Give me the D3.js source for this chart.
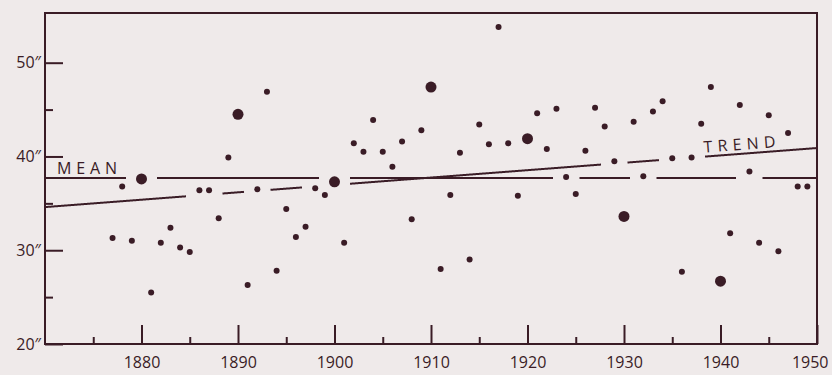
<!DOCTYPE html>
<html>
<head>
<meta charset="utf-8">
<script src="https://cdn.jsdelivr.net/npm/d3@7"></script>
<style>
    html, body { margin: 0; padding: 0; background: #efeaea; }
    svg { display: block; }
    text { font-family: "Open Sans", sans-serif; fill: #3a1c26; }
</style>
</head>
<body>
<svg id="chart" width="832" height="375"></svg>
<script>
// annual rainfall (inches)
const years = [
    1877, 1878, 1879, 1880, 1881, 1882, 1883, 1884, 1885, 1886, 1887, 1888, 1889,
    1890, 1891, 1892, 1893, 1894, 1895, 1896, 1897, 1898, 1899,
    1900, 1901, 1902, 1903, 1904, 1905, 1906, 1907, 1908, 1909,
    1910, 1911, 1912, 1913, 1914, 1915, 1916, 1917, 1918, 1919,
    1920, 1921, 1922, 1923, 1924, 1925, 1926, 1927, 1928, 1929,
    1930, 1931, 1932, 1933, 1934, 1935, 1936, 1937, 1938, 1939,
    1940, 1941, 1942, 1943, 1944, 1945, 1946, 1947, 1948, 1949
];
const rainfall = [
    31.3, 36.8, 31.0, 37.6, 25.5, 30.8, 32.4, 30.3, 29.8, 36.4, 36.4, 33.4, 39.9,
    44.5, 26.3, 36.5, 46.9, 27.8, 34.4, 31.4, 32.5, 36.6, 35.9,
    37.3, 30.8, 41.4, 40.5, 43.9, 40.5, 38.9, 41.6, 33.3, 42.8,
    47.4, 28.0, 35.9, 40.4, 29.0, 43.4, 41.3, 53.8, 41.4, 35.8,
    41.9, 44.6, 40.8, 45.1, 37.8, 36.0, 40.6, 45.2, 43.2, 39.5,
    33.6, 43.7, 37.9, 44.8, 45.9, 39.8, 27.7, 39.9, 43.5, 47.4,
    26.7, 31.8, 45.5, 38.4, 30.8, 44.4, 29.9, 42.5, 36.8, 36.8
];
const meanRain   = 37.7;
const trendYears = [1870, 1950];
const trendRain  = [34.6, 40.9];

const yMajorTicks = [20, 30, 40, 50];
const yMinorTicks = [25, 35, 45];
const xMajorTicks = [1880, 1890, 1900, 1910, 1920, 1930, 1940, 1950];
const xMinorTicks = [1875, 1885, 1895, 1905, 1915, 1925, 1935, 1945];

const ink = '#3a1c26';
const plotLeft = 45, plotRight = 817, plotTop = 13, plotBottom = 344;

const x = d3.scaleLinear().domain([1870, 1950]).range([plotLeft, plotRight]);
const y = d3.scaleLinear().domain([20, 55.3]).range([plotBottom, plotTop]);
const trend = d3.scaleLinear().domain(trendYears).range(trendRain);

const svg = d3.select('#chart');

// frame
svg.append('rect')
    .attr('x', plotLeft).attr('y', plotTop)
    .attr('width', plotRight - plotLeft).attr('height', plotBottom - plotTop)
    .attr('fill', 'none').attr('stroke', ink).attr('stroke-width', 2);

function styleAxis(g) {
    g.select('.domain').remove();
    g.selectAll('.tick line').attr('stroke', ink).attr('stroke-width', 2);
    g.selectAll('.tick text').attr('fill', ink).style('font-size', '16px');
}

svg.append('g').attr('transform', `translate(${plotLeft},0)`)
    .call(d3.axisLeft(y).tickValues(yMajorTicks).tickSizeInner(-18).tickSizeOuter(0)
        .tickPadding(4).tickFormat(d => d + '″'))
    .call(styleAxis);
svg.append('g').attr('transform', `translate(${plotLeft},0)`)
    .call(d3.axisLeft(y).tickValues(yMinorTicks).tickSizeInner(-8).tickSizeOuter(0).tickFormat(''))
    .call(styleAxis);

const xAxis = svg.append('g').attr('transform', `translate(0,${plotBottom})`)
    .call(d3.axisBottom(x).tickValues(xMajorTicks).tickSizeInner(-19).tickSizeOuter(0)
        .tickPadding(13).tickFormat(d3.format('d')))
    .call(styleAxis);
// last year label tucked in against the right edge
xAxis.selectAll('.tick text').filter(d => d === 1950)
    .attr('text-anchor', 'end').attr('dx', 11);

svg.append('g').attr('transform', `translate(0,${plotBottom})`)
    .call(d3.axisBottom(x).tickValues(xMinorTicks).tickSizeInner(-7).tickSizeOuter(0).tickFormat(''))
    .call(styleAxis);

// dots, decade years drawn bigger
const dots = years.map((yr, i) => ({
    cx: x(yr), cy: y(rainfall[i]), r: yr % 10 === 0 ? 5.5 : 3
}));

// break a line wherever it would run into a dot
function segments(lineY) {
    const out = [];
    let cur = null;
    for (let px = plotLeft; px <= plotRight; px += 0.5) {
        const py = lineY(px);
        const hit = dots.some(d => Math.abs(px - d.cx) < d.r + 10 && Math.abs(py - d.cy) < d.r + 5.2);
        if (!hit) {
            if (!cur) { cur = []; out.push(cur); }
            cur.push([px, py]);
        } else {
            cur = null;
        }
    }
    return out.filter(s => s.length > 2);
}

const line = d3.line();
const meanY  = px => y(meanRain);
const trendY = px => y(trend(x.invert(px)));

svg.append('g').selectAll('path')
    .data(segments(meanY).concat(segments(trendY)))
    .enter().append('path')
    .attr('d', line)
    .attr('fill', 'none').attr('stroke', ink).attr('stroke-width', 2);

svg.append('g').selectAll('circle')
    .data(dots)
    .enter().append('circle')
    .attr('cx', d => d.cx).attr('cy', d => d.cy).attr('r', d => d.r)
    .attr('fill', ink);

// labels
svg.append('text')
    .attr('x', plotLeft + 12).attr('y', meanY(plotLeft) - 4)
    .attr('textLength', 60).attr('lengthAdjust', 'spacing')
    .style('font-size', '16px')
    .text('MEAN');

const tx = 704, ty = trendY(tx) - 4;
const angle = Math.atan2(trendY(plotRight) - trendY(plotLeft), plotRight - plotLeft) * 180 / Math.PI;
svg.append('text')
    .attr('x', tx).attr('y', ty)
    .attr('transform', `rotate(${angle},${tx},${ty})`)
    .attr('textLength', 72).attr('lengthAdjust', 'spacing')
    .style('font-size', '16px')
    .text('TREND');
</script>
</body>
</html>
